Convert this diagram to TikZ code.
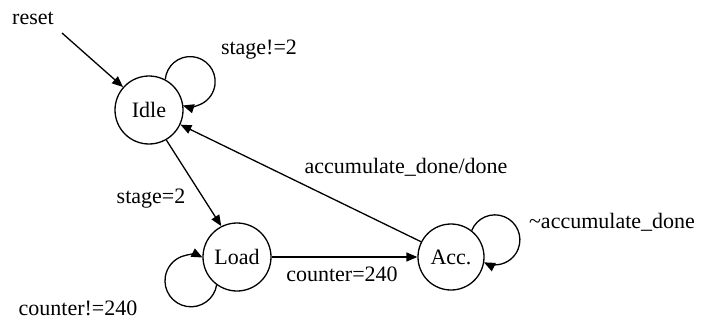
\documentclass[tikz,border=0pt]{standalone}
\usepackage{fontspec}
\setmainfont{Liberation Serif}
\usetikzlibrary{arrows.meta}
\begin{document}
\begin{tikzpicture}[x=1pt,y=1pt,
  every node/.style={font=\fontsize{22}{26}\selectfont},
  state/.style={draw,circle,line width=1.3pt,inner sep=0pt,minimum size=68pt},
  edge/.style={line width=1.3pt,-{Triangle[length=11pt,width=9pt]}},
  lbl/.style={inner sep=0pt}]
\useasboundingbox (0,0) rectangle (717,322);

% states
\node[state] (Idle) at (149,212) {Idle};
\node[state] (Load) at (237,65) {Load};
\node[state,minimum size=66pt] (Acc) at (451,65) {Acc.};

% initial transition
\node[lbl] (resetlbl) at (33,304) {reset};
\coordinate (resetstart) at (62,289);
\draw[edge] (resetstart) -- (Idle);

% transitions between states
\draw[edge] (Idle.-60) -- (Load.117);
\draw[edge] (Load) -- (Acc);
\draw[edge] (Acc.153) -- (Idle.-25);

% self loops
\draw[edge] (Idle.62) arc[start angle=175,end angle=-107,radius=25];
\draw[edge] (Load.234) arc[start angle=-9.4,end angle=-296.5,radius=26];
\draw[edge] (Acc.52) arc[start angle=158,end angle=-116,radius=25];

% transition labels
\node[lbl] (l1) at (259,272) {stage!=2};
\node[lbl] (l2) at (151,123) {stage=2};
\node[lbl] (l3) at (406,155) {accumulate\_done/done};
\node[lbl] (l4) at (342,48) {counter=240};
\node[lbl] (l5) at (78,14) {counter!=240};
\node[lbl] (l6) at (612,100) {\textasciitilde accumulate\_done};
\end{tikzpicture}
\end{document}
